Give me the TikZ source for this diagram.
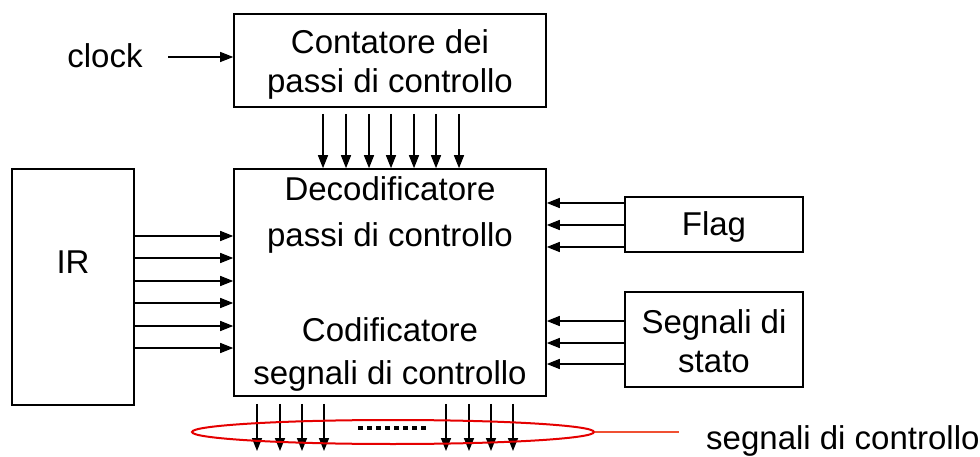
\documentclass[tikz,border=0pt]{standalone}
\usepackage{fontspec}
\setmainfont{Liberation Sans}
\usetikzlibrary{arrows.meta,shapes.geometric}
\begin{document}
\begin{tikzpicture}[x=1pt,y=-1pt,
  lbl/.style={font=\fontsize{33}{39}\selectfont, inner sep=0pt, align=center},
  blk/.style={draw, line width=1.6pt, inner sep=0pt},
  arr/.style={line width=1.5pt, -{Triangle[length=13pt,width=10pt]}},
  sigring/.style={ellipse, draw=red!90!black, line width=2pt, inner sep=0pt}]
\useasboundingbox (0,0) rectangle (980,457);

% blocks
\node[blk, minimum width=312, minimum height=93] (cnt) at (390,60.5) {};
\node[blk, minimum width=312, minimum height=227] (main) at (390,282.5) {};
\node[blk, minimum width=122, minimum height=236] (ir) at (73,287) {};
\node[blk, minimum width=178, minimum height=55] (flag) at (714,224.5) {};
\node[blk, minimum width=178, minimum height=95] (stato) at (714,339.5) {};

% block labels
\node[lbl] (cntlbl) at (390,64) {Contatore dei\\passi di controllo};
\node[lbl] (irlbl) at (73,262) {IR};
\node[lbl] (flaglbl) at (714,227) {Flag};
\node[lbl] (statolbl) at (714,341) {Segnali di\\stato};
\node[lbl] (dec1) at (390,189) {Decodificatore};
\node[lbl] (dec2) at (390,238) {passi di controllo};
\node[lbl] (cod1) at (390,330) {Codificatore};
\node[lbl] (cod2) at (390,376) {segnali di controllo};

% clock input
\node[lbl] (clk) at (105,56) {clock};
\coordinate (clkin) at (168,57);
\draw[arr, line width=1.2pt] (clkin) -- (clkin -| cnt.west);

% step counter -> decoder
\foreach \x in {323,346,369,391,414,436,459}
  \draw[arr] ([yshift=-6pt]cnt.south -| \x,0) -- (main.north -| \x,0);

% IR -> decoder
\foreach \y in {236,258,281,303,326,348}
  \draw[arr] (ir.east |- 0,\y) -- (main.west |- 0,\y);

% flags and status -> decoder
\foreach \y in {203,225,247}
  \draw[arr] (flag.west |- 0,\y) -- (main.east |- 0,\y);
\foreach \y in {321,343,364}
  \draw[arr] (stato.west |- 0,\y) -- (main.east |- 0,\y);

% control signal outputs
\foreach \x in {257,280,302,324,446,469,491,513}
  \draw[arr] ([yshift=-7pt]main.south -| \x,0) -- (\x,451);
\draw[line width=4pt, dash pattern=on 5pt off 4pt] (358,428) -- (426,428);

% grouping ellipse and its label
\node[sigring, minimum width=402, minimum height=24] (ring) at (393,432) {};
\node[lbl, anchor=west] (siglbl) at (706,441) {segnali di controllo};
\coordinate (ringend) at (679,432);
\draw[line width=1.5pt, draw={rgb,255:red,240;green,80;blue,50}] (ring.east) -- (ringend);
\end{tikzpicture}
\end{document}
